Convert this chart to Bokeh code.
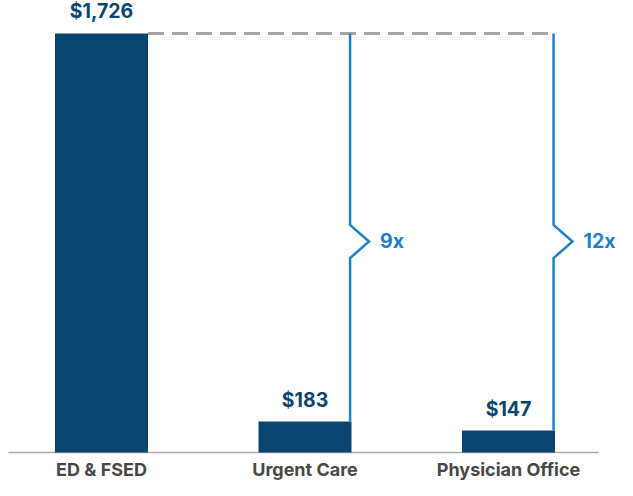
from bokeh.plotting import figure
from bokeh.models import Range1d
from bokeh.core.properties import value
from bokeh.embed import file_html
from bokeh.resources import INLINE

# ---- data ----
categories = ["ED & FSED", "Urgent Care", "Physician Office"]
costs = [1726, 183, 147]
cost_labels = ["$1,726", "$183", "$147"]
multiples = ["9x", "12x"]          # ED cost vs Urgent Care / Physician Office

# ---- styles ----
NAVY = "#0a4570"
BLUE = "#2181c6"
DASH_GRAY = "#a4a4a4"
AXIS_GRAY = "#acacac"
LABEL_GRAY = "#484848"
FONT = value("Inter")

BASE = 60            # value at the baseline of the chart
BAR_W = 0.457
NOTCH_Y = 899        # vertical centre of the brace notch (value units)
NOTCH_HALF = 66      # half-height of the notch (value units)
NOTCH_DEPTH = 0.093  # depth of the notch (x units)
INSET = 0.007

xs = list(range(len(categories)))

p = figure(width=617, height=480, output_backend="svg", toolbar_location=None,
           x_range=Range1d(-0.4963, 2.5356), y_range=Range1d(-51.33, 1857.21),
           x_axis_type=None, y_axis_type=None,
           min_border_left=0, min_border_right=0, min_border_top=0, min_border_bottom=0)
p.outline_line_color = None
p.grid.visible = False

# baseline
p.line(x=[-0.457, 2.442], y=[BASE, BASE], line_color=AXIS_GRAY, line_width=1.3)

# bars
p.vbar(x=xs, width=BAR_W, bottom=BASE, top=costs, fill_color=NAVY, line_color=None)

# dashed reference line at ED level
right_edge = [x + BAR_W / 2 for x in xs]
p.line(x=[right_edge[0], right_edge[2] - INSET], y=[costs[0], costs[0]],
       line_color=DASH_GRAY, line_width=3, line_dash="16 8")

# braces
for i, m in zip([1, 2], multiples):
    bx = right_edge[i] - INSET
    p.line(x=[bx, bx, bx + NOTCH_DEPTH, bx, bx],
           y=[costs[0], NOTCH_Y + NOTCH_HALF, NOTCH_Y, NOTCH_Y - NOTCH_HALF, costs[i]],
           line_color=BLUE, line_width=2.5, line_join="miter")
    p.text(x=[bx], y=[NOTCH_Y], text=[m], x_offset=30, text_align="left",
           text_baseline="middle", text_font=FONT, text_font_size="19.5px",
           text_font_style="bold", text_color=BLUE)

# value labels
p.text(x=xs, y=costs, text=cost_labels, y_offset=-22, text_align="center",
       text_baseline="alphabetic", text_font=FONT, text_font_size="19.5px",
       text_font_style="bold", text_color=NAVY)

# category labels
p.text(x=xs, y=[BASE] * len(xs), text=categories, y_offset=17, text_align="center",
       text_baseline="alphabetic", text_font=FONT, text_font_size="18px",
       text_font_style="bold", text_color=LABEL_GRAY)

open("out.html", "w").write(file_html(p, INLINE))
